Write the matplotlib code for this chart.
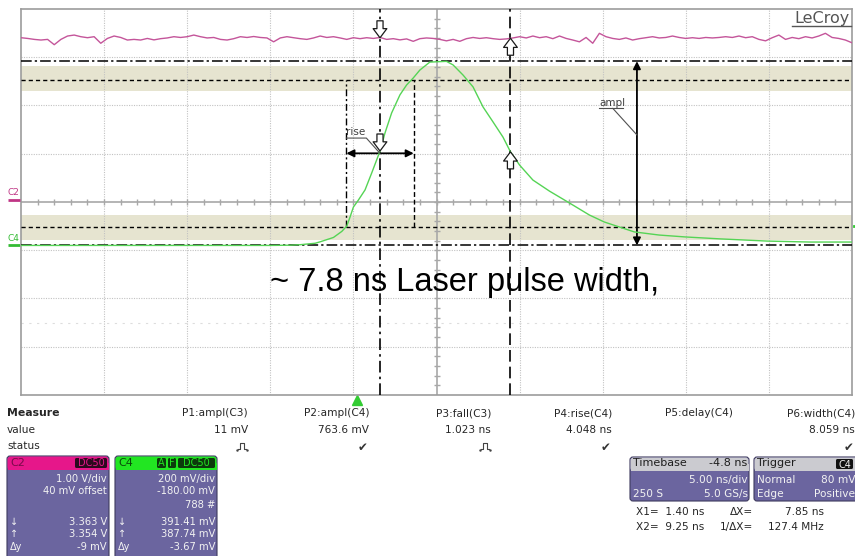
import matplotlib
matplotlib.use('Agg')
import matplotlib.pyplot as plt
from matplotlib.patches import FancyBboxPatch, Rectangle
from matplotlib.transforms import blended_transform_factory
import numpy as np

W, H = 855, 556

# scope settings
t_per_div = 5.0        # ns/div
t_left = -20.2         # ns at left graticule edge
n_xdiv, n_ydiv = 10, 8
c4_per_div = 200.0     # mV/div
c4_offset = -180.0     # mV
c2_per_div = 1.0       # V/div
c2_offset = 0.04       # V

# C4: photodiode pulse (ns, mV)
c4_t = [-20.2, -5.2, -4.0, -3.4, -2.5, -2.2, -1.4, -0.9, -0.6, -0.4, -0.2, 0.1,
        0.5, 0.9, 1.4, 1.7, 2.1, 2.6, 3.0, 3.4, 3.8, 4.4, 5.4, 5.8, 6.4, 7.0,
        7.6, 8.2, 8.8, 9.25, 9.8, 10.6, 11.6, 12.7, 14.0, 14.9, 16.7, 18.2,
        19.8, 21.9, 24.7, 27.3, 29.8]
c4_mv = [0, 0, 1, 3, 9, 15, 33, 58, 80, 118, 159, 188,
         230, 300, 391, 466, 549, 624, 665, 694, 727, 760, 763, 748, 706, 657,
         574, 512, 449, 388, 333, 271, 225, 180, 126, 97, 56, 43,
         35, 27, 18, 14, 14]

# C2: 0.4 ns sample spacing (V)
c2_step = 0.4
c2_v = [3.365, 3.35, 3.33, 3.317, 3.33, 3.22, 3.33, 3.40, 3.42, 3.386,
        3.365, 3.386, 3.25, 3.35, 3.40, 3.37, 3.317, 3.33, 3.317, 3.35,
        3.32, 3.345, 3.36, 3.386, 3.37, 3.386, 3.42, 3.386, 3.36, 3.37,
        3.33, 3.317, 3.345, 3.386, 3.37, 3.39, 3.37, 3.36, 3.28, 3.36,
        3.386, 3.365, 3.345, 3.33, 3.36, 3.40, 3.37, 3.386, 3.36, 3.33,
        3.365, 3.345, 3.365, 3.35, 3.37, 3.33, 3.345, 3.32, 3.34, 3.29,
        3.345, 3.36, 3.35, 3.33, 3.30, 3.33, 3.29, 3.345, 3.37, 3.35,
        3.365, 3.345, 3.33, 3.34, 3.36, 3.386, 3.36, 3.40, 3.365, 3.386,
        3.345, 3.40, 3.35, 3.317, 3.28, 3.37, 3.25, 3.456, 3.386, 3.35,
        3.33, 3.36, 3.317, 3.345, 3.365, 3.386, 3.36, 3.37, 3.40, 3.37,
        3.35, 3.365, 3.35, 3.37, 3.36, 3.37, 3.386, 3.37, 3.40, 3.365,
        3.386, 3.33, 3.30, 3.365, 3.42, 3.33, 3.37, 3.345, 3.386, 3.36,
        3.40, 3.456, 3.37, 3.35, 3.317, 3.26]

# measurement overlays
ampl_mv = 763.6
rise_ns = 4.048
rise_start_ns = -0.62
ampl_marker_ns = 16.86
x1_ns, x2_ns = 1.40, 9.25
trig_ns = 0.0
trig_level_mv = 80.0
band_low = (22.0, 128.0)
band_high = (640.0, 743.0)

meas_names = ['P1:ampl(C3)', 'P2:ampl(C4)', 'P3:fall(C3)', 'P4:rise(C4)',
              'P5:delay(C4)', 'P6:width(C4)']
meas_values = ['11 mV', '763.6 mV', '1.023 ns', '4.048 ns', '', '8.059 ns']
meas_status = ['pulse', 'ok', 'pulse', 'ok', '', 'ok']

c2_box = ['1.00 V/div', '40 mV offset', '', '3.363 V', '3.354 V', '-9 mV']
c4_box = ['200 mV/div', '-180.00 mV', '788 #', '391.41 mV', '387.74 mV', '-3.67 mV']
c2_at_x1, c2_at_x2 = 3.363, 3.354
c4_at_x1, c4_at_x2 = 391.41, 387.74

fig = plt.figure(figsize=(W / 100, H / 100), dpi=100)
fig.patch.set_facecolor('white')

ax = fig.add_axes([21 / W, 1 - 395 / H, 831 / W, 386 / H])
t_right = t_left + n_xdiv * t_per_div
y_lo = -n_ydiv / 2 * c4_per_div - c4_offset
y_hi = n_ydiv / 2 * c4_per_div - c4_offset
ax.set_xlim(t_left, t_right)
ax.set_ylim(y_lo, y_hi)
ax.set_xticks([])
ax.set_yticks([])
for s in ax.spines.values():
    s.set_color('#9c9c9c')
    s.set_linewidth(1.2)

# graticule
grid_kw = dict(color='#c2c2c2', lw=0.8, ls=(0, (1, 1.2)), zorder=1)
for k in range(1, n_xdiv):
    if k != n_xdiv // 2:
        ax.axvline(t_left + k * t_per_div, **grid_kw)
for k in range(1, n_ydiv):
    if k != n_ydiv // 2:
        ax.axhline(y_lo + k * c4_per_div, **grid_kw)
t_mid = t_left + n_xdiv / 2 * t_per_div
y_mid = (y_lo + y_hi) / 2
ax.axvline(t_mid, color='#a8a8a8', lw=1.2, zorder=1)
ax.axhline(y_mid, color='#a8a8a8', lw=1.2, zorder=1)
minor_t = t_left + np.arange(1, n_xdiv * 5) * t_per_div / 5
minor_y = y_lo + np.arange(1, n_ydiv * 5) * c4_per_div / 5
ax.plot(minor_t, np.full(minor_t.size, y_mid), ls='none', marker='|', ms=5,
        mew=1, color='#a8a8a8', zorder=1)
ax.plot(np.full(minor_y.size, t_mid), minor_y, ls='none', marker='_', ms=5,
        mew=1, color='#a8a8a8', zorder=1)
# faint leftover row
ax.axhline(y_lo + 1.5 * c4_per_div, color='#dddddd', lw=0.8,
           ls=(0, (2, 5)), zorder=1)

# top / base bands and levels
ax.axhspan(*band_low, color='#e6e4d0', lw=0, zorder=0.5)
ax.axhspan(*band_high, color='#e6e4d0', lw=0, zorder=0.5)
ax.axhline(0, color='k', lw=1.1, dashes=(7, 2, 1.5, 2), zorder=3)
ax.axhline(ampl_mv, color='k', lw=1.1, dashes=(7, 2, 1.5, 2), zorder=3)
ax.axhline(0.1 * ampl_mv, color='k', lw=1.0, dashes=(3, 2.2), zorder=3)
ax.axhline(0.9 * ampl_mv, color='k', lw=1.0, dashes=(3, 2.2), zorder=3)

# rise time markers
t10 = rise_start_ns
t90 = rise_start_ns + rise_ns
ax.plot([t10, t10], [0.1 * ampl_mv, 0.9 * ampl_mv], color='k', lw=1.0,
        dashes=(5, 2, 1.5, 2), zorder=3)
ax.plot([t90, t90], [0.1 * ampl_mv, 0.9 * ampl_mv], color='k', lw=1.0,
        dashes=(3.5, 2), zorder=3)
mid_mv = 0.5 * ampl_mv
ax.annotate('', xy=(t90, mid_mv), xytext=(t10, mid_mv),
            arrowprops=dict(arrowstyle='<|-|>', color='k', lw=1.3,
                            mutation_scale=11, shrinkA=0, shrinkB=0), zorder=4)
ax.text(t10, 458, 'rise', fontsize=7.5, color='#404040', va='baseline', zorder=6)
ax.plot([t10, t10 + 1.2, x1_ns], [445, 445, mid_mv], color='#505050', lw=0.8, zorder=6)

# amplitude marker
ax.annotate('', xy=(ampl_marker_ns, ampl_mv), xytext=(ampl_marker_ns, 0),
            arrowprops=dict(arrowstyle='<|-|>', color='k', lw=1.3,
                            mutation_scale=11, shrinkA=0, shrinkB=0), zorder=4)
ax.text(ampl_marker_ns - 2.28, 578, 'ampl', fontsize=7.5, color='#404040',
        va='baseline', zorder=6)
ax.plot([ampl_marker_ns - 2.28, ampl_marker_ns - 0.84], [568, 568],
        color='#505050', lw=0.8, zorder=6)
ax.plot([ampl_marker_ns - 1.45, ampl_marker_ns], [568, 458],
        color='#505050', lw=0.8, zorder=6)

# cursors
ax.axvline(x1_ns, color='k', lw=1.2, dashes=(7, 2.5, 1.5, 2.5), zorder=4)
ax.axvline(x2_ns, color='k', lw=1.2, dashes=(7, 3), zorder=4)

# traces
ax.plot(c4_t, c4_mv, color='#55d455', lw=1.0, zorder=5)
axc2 = ax.twinx()
axc2.set_ylim(-n_ydiv / 2 * c2_per_div - c2_offset, n_ydiv / 2 * c2_per_div - c2_offset)
axc2.axis('off')
c2_t = t_left + c2_step * np.arange(len(c2_v))
axc2.plot(c2_t, c2_v, color='#c4559a', lw=1.0, zorder=5)


def hollow_arrow(axis, x, y, down):
    off = 17 if down else -17
    axis.annotate('', xy=(x, y), xytext=(0, off), textcoords='offset pixels',
                  arrowprops=dict(arrowstyle='simple,head_length=0.6,head_width=0.9,tail_width=0.4',
                                  fc='white', ec='#1a1a1a', lw=0.9, mutation_scale=11,
                                  shrinkA=0, shrinkB=0), zorder=7)


hollow_arrow(axc2, x1_ns, c2_at_x1, True)
hollow_arrow(axc2, x2_ns, c2_at_x2, False)
hollow_arrow(ax, x1_ns, c4_at_x1, True)
hollow_arrow(ax, x2_ns, c4_at_x2, False)

# channel ground markers on the left edge, trigger markers
tr_c4 = blended_transform_factory(ax.transAxes, ax.transData)
tr_c2 = blended_transform_factory(ax.transAxes, axc2.transData)
ax.plot([-13 / 831, -1 / 831], [0, 0], transform=tr_c4, color='#33bb33', lw=2,
        clip_on=False, solid_capstyle='butt')
ax.text(-13 / 831, 12, 'C4', transform=tr_c4, color='#33bb33', fontsize=6.5,
        va='bottom', ha='left')
axc2.plot([-13 / 831, -1 / 831], [0, 0], transform=tr_c2, color='#c03585', lw=2,
          clip_on=False, solid_capstyle='butt')
axc2.text(-13 / 831, 0.06, 'C2', transform=tr_c2, color='#c03585', fontsize=6.5,
          va='bottom', ha='left')
ax.plot([1.002, 1.01], [trig_level_mv, trig_level_mv], transform=tr_c4,
        color='#33cc33', lw=2, clip_on=False)
tr_x = blended_transform_factory(ax.transData, ax.transAxes)
ax.plot([trig_ns], [-0.014], transform=tr_x, marker='^', ms=7, color='#33cc33',
        clip_on=False, ls='none')

# overlay in pixel coordinates for the panels and annotation text
ui = fig.add_axes([0, 0, 1, 1], zorder=10)
ui.set_xlim(0, W)
ui.set_ylim(H, 0)
ui.axis('off')
ui.patch.set_alpha(0)

ui.text(270, 291, '~ 7.8 ns Laser pulse width,', fontsize=23.5,
        family='Liberation Sans', va='baseline', ha='left', color='black')
ui.text(850, 23, 'LeCroy', fontsize=11.5, color='#555555', ha='right', va='baseline')
ui.plot([792, 851], [25.5, 25.5], color='#555555', lw=1)

txt = '#262626'
ui.text(7, 413, 'Measure', fontsize=7.8, fontweight='bold', color=txt, va='center')
ui.text(7, 430, 'value', fontsize=7.6, color=txt, va='center')
ui.text(7, 446, 'status', fontsize=7.6, color=txt, va='center')
col_right = [248, 369, 491, 612, 733, 855]
for xr, name, val, st in zip(col_right, meas_names, meas_values, meas_status):
    ui.text(xr, 413, name, fontsize=7.6, color=txt, ha='right', va='center')
    if val:
        ui.text(xr, 430, val, fontsize=7.6, color=txt, ha='right', va='center')
    if st == 'ok':
        ui.text(xr - 1, 447, '\u2714', fontsize=8.5, color='#333333', ha='right', va='center')
    elif st == 'pulse':
        px = xr - 6
        ui.plot([px - 4, px - 2, px - 2, px + 2, px + 2, px + 4],
                [449, 449, 443, 443, 449, 449], color='#444444', lw=0.8)
        ui.plot([px - 5, px + 5], [449.5, 449.5], ls='none', marker='.', ms=1.5, color='#444444')

body_c = '#6b659f'
edge_c = '#3e3a5e'
light = '#f2f2f2'


def panel(x0, y0, w, h, head_c):
    ui.add_patch(FancyBboxPatch((x0, y0), w, h, boxstyle='round,pad=0,rounding_size=3',
                                fc=body_c, ec=edge_c, lw=0.8))
    ui.add_patch(FancyBboxPatch((x0 + 0.5, y0 + 0.5), w - 1, 13.5,
                                boxstyle='round,pad=0,rounding_size=3', fc=head_c, ec='none'))
    ui.add_patch(Rectangle((x0 + 0.5, y0 + 7), w - 1, 7, fc=head_c, ec='none'))


def badge(x0, x1, label, fc, tc, y0=458, y1=468):
    ui.add_patch(FancyBboxPatch((x0, y0), x1 - x0, y1 - y0,
                                boxstyle='round,pad=0,rounding_size=1.5', fc=fc, ec='none'))
    ui.text((x0 + x1) / 2, (y0 + y1) / 2 + 0.5, label, fontsize=7, color=tc,
            ha='center', va='center')


rows_y = [479, 491, 505, 522, 534, 547]
side = ['', '', '', '\u2193', '\u2191', '\u0394y']

# C2 channel box
panel(7, 456, 102, 110, '#e6178a')
ui.text(10, 463.5, 'C2', fontsize=8, color='#7a0a4a', va='center')
badge(75, 107, 'DC50', '#2c0a1e', '#e6178a')
for y, s, v in zip(rows_y, side, c2_box):
    ui.text(107, y, v, fontsize=7.2, color=light, ha='right', va='center')
    ui.text(10, y, s, fontsize=7, color=light, ha='left', va='center')

# C4 channel box
panel(115, 456, 102, 110, '#22e622')
ui.text(118, 463.5, 'C4', fontsize=8, color='#0a4a0a', va='center')
badge(157, 166, 'A', '#0c3a0c', '#22e622')
badge(168, 176, 'F', '#0c3a0c', '#22e622')
badge(178, 215, 'DC50', '#0c3a0c', '#22e622')
for y, s, v in zip(rows_y, side, c4_box):
    ui.text(215, y, v, fontsize=7.2, color=light, ha='right', va='center')
    ui.text(118, y, s, fontsize=7, color=light, ha='left', va='center')

# timebase and trigger boxes
panel(630, 457, 119, 44, '#cbcbd0')
ui.text(633, 463.5, 'Timebase', fontsize=8, color='#1e1e1e', va='center')
ui.text(747, 463.5, '-4.8 ns', fontsize=8, color='#1e1e1e', va='center', ha='right')
ui.text(748, 480, '5.00 ns/div', fontsize=7.6, color=light, va='center', ha='right')
ui.text(633, 494, '250 S', fontsize=7.6, color=light, va='center')
ui.text(748, 494, '5.0 GS/s', fontsize=7.6, color=light, va='center', ha='right')

panel(754, 457, 106, 44, '#cbcbd0')
ui.text(757, 463.5, 'Trigger', fontsize=8, color='#1e1e1e', va='center')
badge(836, 853, 'C4', '#111111', '#f0f0f0', y0=459, y1=469)
ui.text(757, 480, 'Normal', fontsize=7.6, color=light, va='center')
ui.text(855, 480, '80 mV', fontsize=7.6, color=light, va='center', ha='right')
ui.text(757, 494, 'Edge', fontsize=7.6, color=light, va='center')
ui.text(855, 494, 'Positive', fontsize=7.6, color=light, va='center', ha='right')

# cursor readout
ui.text(636, 512, 'X1=  %.2f ns' % x1_ns, fontsize=7.6, color=txt, va='center')
ui.text(636, 527, 'X2=  %.2f ns' % x2_ns, fontsize=7.6, color=txt, va='center')
ui.text(753, 512, '\u0394X=', fontsize=7.6, color=txt, va='center', ha='right')
ui.text(753, 527, '1/\u0394X=', fontsize=7.6, color=txt, va='center', ha='right')
dx = x2_ns - x1_ns
ui.text(824, 512, '%.2f ns' % dx, fontsize=7.6, color=txt, va='center', ha='right')
ui.text(824, 527, '%.1f MHz' % (1e3 / dx), fontsize=7.6, color=txt, va='center', ha='right')

fig.savefig('out.png', dpi=100)
